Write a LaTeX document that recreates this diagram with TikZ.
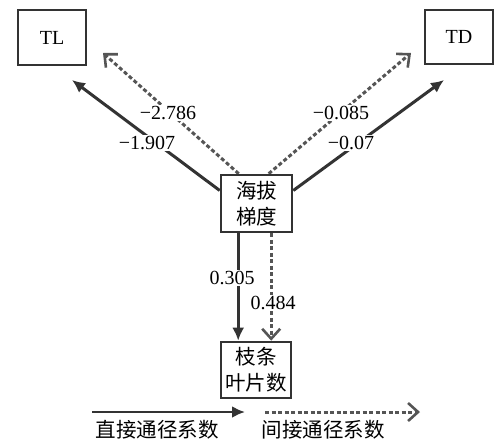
\documentclass[tikz,border=0pt]{standalone}
\usepackage{fontspec}
\setmainfont{Liberation Serif}
\newfontfamily\cjk{Noto Sans CJK SC}
\usetikzlibrary{arrows.meta}
\definecolor{ink}{HTML}{333333}
\definecolor{dink}{HTML}{555555}
\tikzset{
  x=1pt, y=-1pt,
  box/.style={draw=ink, line width=2.6pt, fill=white, inner sep=0pt, align=center},
  direct/.style={draw=ink, line width=3pt, -{Latex[length=13pt,width=12pt]}},
  indirect/.style={draw=dink, line width=3pt, dash pattern=on 4pt off 2.5pt, -{Straight Barb[length=10pt,width=18pt,line width=2.6pt]}},
  num/.style={fill=white, inner sep=1pt, font=\fontsize{20}{24}\selectfont, text=black},
  cn/.style={font=\cjk\fontsize{20.5}{26}\selectfont},
}
\begin{document}
\begin{tikzpicture}
\useasboundingbox (0,0) rectangle (494,442);
% boxes
\node[box, minimum width=68pt, minimum height=55pt, font=\fontsize{20}{24}\selectfont] (TL) at (52,37.5) {TL};
\node[box, minimum width=68pt, minimum height=54pt, font=\fontsize{20}{24}\selectfont] (TD) at (459,37) {TD};
\node[box, cn, minimum width=71pt, minimum height=57pt] (alt) at (256.5,203.5) {海拔\\梯度};
\node[box, cn, minimum width=70pt, minimum height=56pt] (leaf) at (256,370) {枝条\\叶片数};
% end points
\coordinate (tlS) at (72,80);
\coordinate (tlI) at (103,53);
\coordinate (tdI) at (411,53);
\coordinate (tdS) at (444,80);
% connectors
\draw[indirect] (alt.north west) ++(19,0) coordinate (a1) -- (tlI);
\draw[indirect] (alt.north west) ++(49,0) coordinate (a2) -- (tdI);
\draw[direct] (alt.west) ++(0,-13) coordinate (a3) -- (tlS);
\draw[direct] (alt.east) ++(0,-13) coordinate (a4) -- (tdS);
\draw[direct] (alt.south west) ++(18.5,0) coordinate (a5) -- (a5 |- leaf.north);
\draw[indirect] (alt.south west) ++(51.5,0) coordinate (a6) -- (a6 |- leaf.north);
% redraw boxes above line ends
\node[box, cn, minimum width=71pt, minimum height=57pt] at (alt) {海拔\\梯度};
% labels
\node[num] (l1) at (168,113) {−2.786};
\node[num] (l2) at (147,143) {−1.907};
\node[num] (l3) at (341,113) {−0.085};
\node[num] (l4) at (351,143) {−0.07};
\node[num] (l5) at (232,278) {0.305};
\node[num] (l6) at (273,303) {0.484};
% legend
\coordinate (g1) at (92,412);
\coordinate (g2) at (245,412);
\coordinate (g3) at (265,412);
\coordinate (g4) at (420,412);
\draw[direct, line width=2.6pt] (g1) -- (g2);
\draw[indirect] (g3) -- (g4);
\node[cn] (t1) at (157,430) {直接通径系数};
\node[cn] (t2) at (323,430) {间接通径系数};
\end{tikzpicture}
\end{document}
